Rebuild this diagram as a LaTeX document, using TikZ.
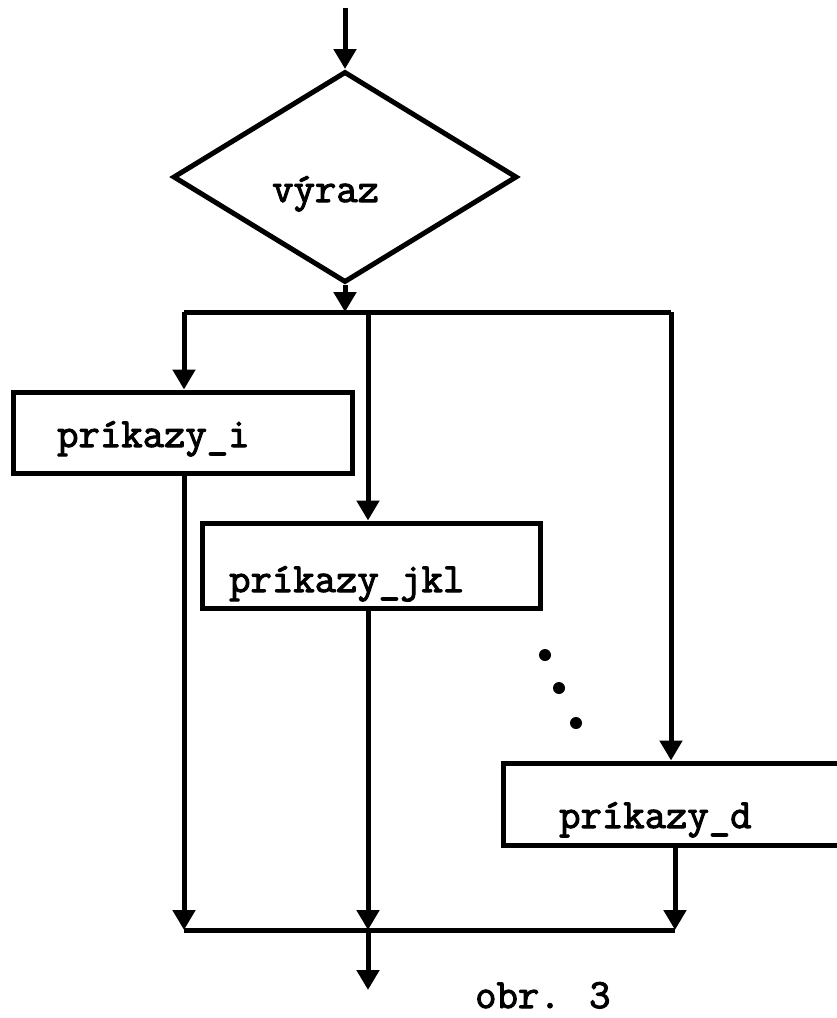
\documentclass[tikz,border=0pt]{standalone}
\usepackage{fontspec}
\newfontfamily\typew{Latin Modern Mono}[FakeBold=2.5]
\usetikzlibrary{shapes.geometric,arrows.meta}
\tikzset{
  flow/.style={line width=5pt, line cap=butt},
  arr/.style={flow, -{Triangle[length=20pt,width=22pt]}},
  boxshape/.style={draw, line width=5pt, rectangle, inner sep=0pt},
  txt/.style={font=\typew\bfseries\fontsize{41.5}{45}\selectfont, inner sep=0pt, anchor=base west},
  dot/.style={fill=black, circle, inner sep=0pt, minimum size=12pt}
}
\begin{document}
\begin{tikzpicture}[x=1pt,y=-1pt]
\useasboundingbox (0,0) rectangle (837,1018);
\clip (0,0) rectangle (837,1018);
% decision
\node[draw, diamond, line width=5pt, inner sep=0pt, minimum width=344pt, minimum height=211pt] (dec) at (345,177) {};
\node[txt] (dectxt) at (272,202) {výraz};
\coordinate (start) at (345,8);
% buses
\coordinate (tl) at (184,312);
\coordinate (tm) at (345,312);
\coordinate (tmid) at (368,312);
\coordinate (tr) at (671,312);
\coordinate (bl) at (184,930);
\coordinate (bm) at (368,930);
\coordinate (br) at (675,930);
\coordinate (endp) at (368,990);
% boxes
\node[boxshape, minimum width=339pt, minimum height=81pt] (b1) at (182.5,432.5) {};
\node[txt] (b1t) at (57,447) {príkazy\_i};
\node[boxshape, minimum width=338pt, minimum height=85pt] (b2) at (371,565.5) {};
\node[txt] (b2t) at (229,592) {príkazy\_jkl};
\node[boxshape, minimum width=357pt, minimum height=82pt] (b3) at (681.5,804) {};
\node[txt] (b3t) at (559,828) {príkazy\_d};
% dots
\node[dot] (d1) at (545,655) {};
\node[dot] (d2) at (559,688) {};
\node[dot] (d3) at (576,723) {};
% connectors
\draw[arr] (start) -- (dec.north);
\draw[arr] (dec.south) -- (tm);
\draw[flow] (tl) -- (tr);
\draw[arr] (tl) -- (tl |- b1.north);
\draw[arr] (tmid) -- (tmid |- b2.north);
\draw[arr] (tr) -- (tr |- b3.north);
\draw[arr] (bl |- b1.south) -- (bl);
\draw[arr] (bm |- b2.south) -- (bm);
\draw[arr] (br |- b3.south) -- (br);
\draw[flow] (bl) -- (br);
\draw[arr] (bm) -- (endp);
\node[txt] (cap) at (475,1008) {obr. 3};
\end{tikzpicture}
\end{document}
